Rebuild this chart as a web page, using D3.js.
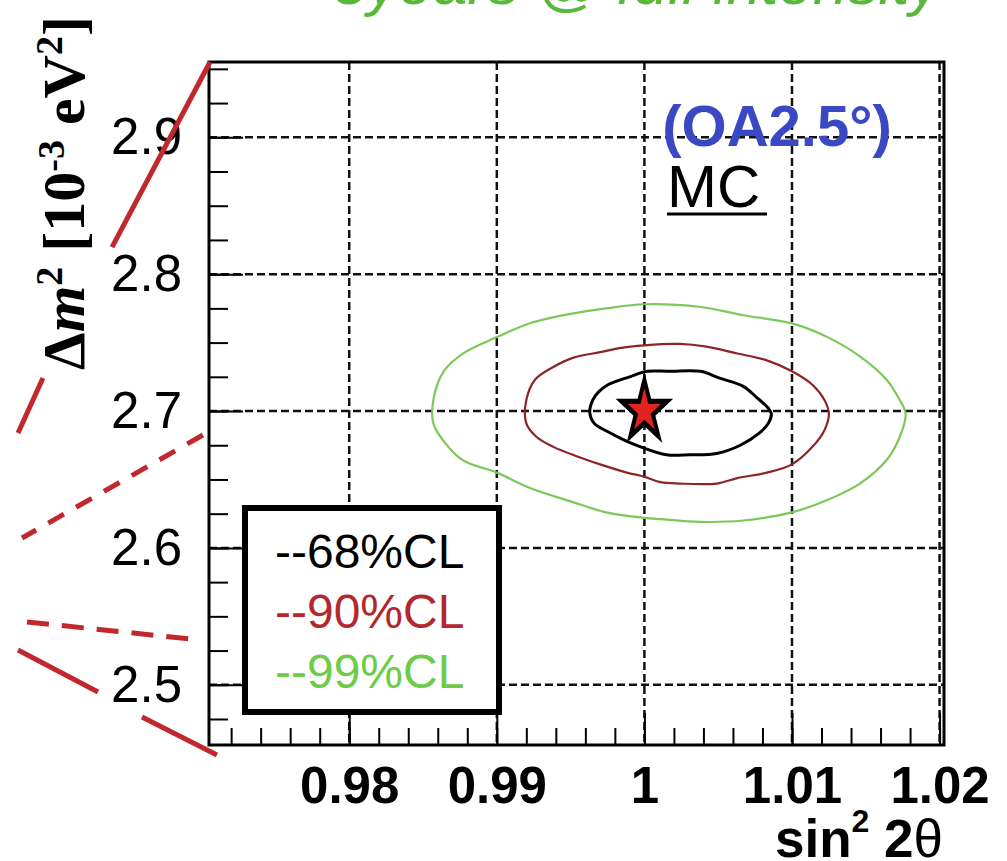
<!DOCTYPE html>
<html>
<head>
<meta charset="utf-8">
<script src="https://cdn.jsdelivr.net/npm/d3@7"></script>
<style>
  body { margin: 0; background: #fff; }
  svg { display: block; }
  .tick line { stroke: #000; stroke-width: 2; }
  .domain { display: none; }
</style>
</head>
<body>
<svg id="chart" width="1007" height="861"></svg>
<script>
// tick values and labels
var xTicks = [0.98, 0.99, 1.0, 1.01, 1.02];
var xTickLabels = ["0.98", "0.99", "1", "1.01", "1.02"];
var yTicks = [2.5, 2.6, 2.7, 2.8, 2.9];
var yTickLabels = ["2.5", "2.6", "2.7", "2.8", "2.9"];

// confidence level contours, [sin^2 2theta, dm^2]
var contour68 = [[0.9963,2.699],[0.9965,2.708],[0.9969,2.714],[0.9975,2.719],[0.9990,2.725],[1.0002,2.729],[1.0017,2.729],[1.0038,2.729],[1.0051,2.724],[1.0067,2.718],[1.0076,2.710],[1.0084,2.702],[1.0086,2.698],[1.0084,2.691],[1.0078,2.684],[1.0065,2.675],[1.0049,2.669],[1.0031,2.668],[1.0015,2.668],[0.9997,2.674],[0.9986,2.679],[0.9975,2.685],[0.9966,2.691]];
var contour90 = [[0.9920,2.708],[0.9926,2.723],[0.9938,2.732],[0.9952,2.739],[0.9970,2.743],[0.9983,2.746],[1.0000,2.748],[1.0024,2.749],[1.0042,2.747],[1.0063,2.742],[1.0083,2.737],[1.0100,2.729],[1.0114,2.719],[1.0122,2.708],[1.0125,2.698],[1.0122,2.686],[1.0114,2.674],[1.0100,2.661],[1.0083,2.655],[1.0063,2.651],[1.0049,2.647],[1.0024,2.647],[1.0011,2.648],[1.0000,2.652],[0.9988,2.655],[0.9970,2.661],[0.9954,2.667],[0.9938,2.674],[0.9927,2.681],[0.9920,2.691]];
var contour99 = [[0.9857,2.708],[0.9864,2.729],[0.9877,2.742],[0.9900,2.754],[0.9922,2.764],[0.9950,2.771],[0.9974,2.775],[1.0000,2.778],[1.0038,2.776],[1.0067,2.770],[1.0100,2.764],[1.0124,2.754],[1.0146,2.740],[1.0164,2.723],[1.0173,2.708],[1.0177,2.698],[1.0173,2.681],[1.0164,2.664],[1.0146,2.647],[1.0124,2.635],[1.0100,2.626],[1.0067,2.620],[1.0038,2.619],[1.0011,2.621],[1.0000,2.622],[0.9974,2.626],[0.9950,2.634],[0.9922,2.644],[0.9900,2.655],[0.9877,2.664],[0.9864,2.678],[0.9857,2.691]];
var bestFit = [1.0, 2.7];
var clLabels = ["--68%CL", "--90%CL", "--99%CL"];

// bits of a neighbouring figure that stick into the frame, in the same coords
var sideStrokes = [
  {p: [[0.97057,2.955],[0.96393,2.8198]], dash: null},
  {p: [[0.95925,2.7241],[0.95756,2.6839]], dash: null},
  {p: [[0.97009,2.6825],[0.95783,2.6072]], dash: "18,14"},
  {p: [[0.95817,2.5459],[0.96989,2.5327]], dash: "22,13"},
  {p: [[0.95756,2.5254],[0.96298,2.4947]], dash: null},
  {p: [[0.96596,2.4765],[0.97104,2.4487]], dash: null}
];

var svg = d3.select("#chart");
var plotL = 209, plotR = 944, plotT = 62, plotB = 745;

var x = d3.scaleLinear().domain([0.9705, 1.0203]).range([plotL, plotR]);
var y = d3.scaleLinear().domain([2.456, 2.955]).range([plotB, plotT]);

var colors = ["#000000", "#8e2426", "#7cc85a"];
var textColors = ["#000000", "#b3282d", "#6ccc48"];

// title, mostly cut away at the top
svg.append("text")
    .attr("x", 333).attr("y", 4)
    .style("font-family", "Liberation Sans, Arial, sans-serif")
    .style("font-style", "italic")
    .style("font-size", "62px")
    .style("fill", "#58b83a")
    .text("5years @ full intensity");

// grid
var grid = svg.append("g").attr("class", "grid");
grid.selectAll("line.gx").data(xTicks).enter().append("line")
    .attr("x1", function(d) { return x(d); }).attr("x2", function(d) { return x(d); })
    .attr("y1", plotT).attr("y2", plotB)
    .attr("stroke", "#111").attr("stroke-width", 2.5).attr("stroke-dasharray", "8,4");
grid.selectAll("line.gy").data(yTicks).enter().append("line")
    .attr("y1", function(d) { return y(d); }).attr("y2", function(d) { return y(d); })
    .attr("x1", plotL).attr("x2", plotR)
    .attr("stroke", "#111").attr("stroke-width", 2.5).attr("stroke-dasharray", "8,4");

// contours
var line = d3.line()
    .x(function(d) { return x(d[0]); })
    .y(function(d) { return y(d[1]); })
    .curve(d3.curveCatmullRomClosed);

[contour99, contour90, contour68].forEach(function(c, i) {
  svg.append("path")
      .datum(c)
      .attr("d", line)
      .attr("fill", "none")
      .attr("stroke", colors[2 - i])
      .attr("stroke-width", i == 2 ? 3 : 2.2);
});

// best fit star
svg.append("path")
    .attr("d", d3.symbol().type(d3.symbolStar).size(640)())
    .attr("transform", "translate(" + x(bestFit[0]) + "," + y(bestFit[1]) + ") scale(1,1.3)")
    .attr("fill", "#e2231f")
    .attr("stroke", "#000")
    .attr("stroke-width", 4)
    .attr("stroke-linejoin", "miter");

// labels inside the frame
svg.append("text")
    .attr("x", 777).attr("y", 146)
    .attr("text-anchor", "middle")
    .style("font-family", "Liberation Sans, Arial, sans-serif")
    .style("font-weight", "bold")
    .style("font-size", "58px")
    .style("fill", "#3a48c4")
    .text("(OA2.5°)");

svg.append("text")
    .attr("x", 667).attr("y", 207)
    .style("font-family", "Liberation Sans, Arial, sans-serif")
    .style("font-size", "60px")
    .style("fill", "#000")
    .text("MC");
svg.append("line")
    .attr("x1", 667).attr("x2", 767).attr("y1", 214).attr("y2", 214)
    .attr("stroke", "#000").attr("stroke-width", 3);

// ticks (inside)
var minorX = x.ticks(25);
var minorY = d3.range(2.475, 2.96, 0.025);

svg.append("g")
    .attr("transform", "translate(0," + plotB + ")")
    .call(d3.axisBottom(x).tickValues(minorX).tickSize(-17).tickFormat(""));
var gx = svg.append("g")
    .attr("transform", "translate(0," + plotB + ")")
    .call(d3.axisBottom(x).tickValues(xTicks).tickSize(-32).tickPadding(22)
      .tickFormat(function(d, i) { return xTickLabels[i]; }));
gx.selectAll("text")
    .style("font-family", "Liberation Sans, Arial, sans-serif")
    .style("font-weight", "bold")
    .style("font-size", "51px")
    .style("fill", "#000");

svg.append("g")
    .attr("transform", "translate(" + plotL + ",0)")
    .call(d3.axisLeft(y).tickValues(minorY).tickSize(-19).tickFormat(""));
var gy = svg.append("g")
    .attr("transform", "translate(" + plotL + ",0)")
    .call(d3.axisLeft(y).tickValues(yTicks).tickSize(-34).tickPadding(27)
      .tickFormat(function(d, i) { return yTickLabels[i]; }));
gy.selectAll("text")
    .style("font-family", "Liberation Sans, Arial, sans-serif")
    .style("font-size", "51px")
    .style("fill", "#000");

// legend
var legend = svg.append("g");
legend.append("rect")
    .attr("x", 245).attr("y", 508).attr("width", 254).attr("height", 204)
    .attr("fill", "#fff").attr("stroke", "#000").attr("stroke-width", 6);
legend.selectAll("text").data(clLabels).enter().append("text")
    .attr("x", 275)
    .attr("y", function(d, i) { return 568 + i * 60; })
    .style("font-family", "Liberation Sans, Arial, sans-serif")
    .style("font-size", "48px")
    .style("fill", function(d, i) { return textColors[i]; })
    .text(function(d) { return d; });

// frame
svg.append("rect")
    .attr("x", plotL).attr("y", plotT)
    .attr("width", plotR - plotL).attr("height", plotB - plotT)
    .attr("fill", "none").attr("stroke", "#000").attr("stroke-width", 3);

// red strokes on the left
svg.selectAll("line.side").data(sideStrokes).enter().append("line")
    .attr("x1", function(d) { return x(d.p[0][0]); })
    .attr("y1", function(d) { return y(d.p[0][1]); })
    .attr("x2", function(d) { return x(d.p[1][0]); })
    .attr("y2", function(d) { return y(d.p[1][1]); })
    .attr("stroke", "#c0282e")
    .attr("stroke-width", 5)
    .attr("stroke-dasharray", function(d) { return d.dash; });

// axis titles
var xt = svg.append("text")
    .attr("x", 943).attr("y", 857)
    .attr("text-anchor", "end")
    .style("font-family", "Liberation Sans, Arial, sans-serif")
    .style("font-weight", "bold")
    .style("font-size", "53px")
    .style("fill", "#000");
xt.append("tspan").text("sin");
xt.append("tspan").attr("dy", -25).style("font-size", "32px").text("2");
xt.append("tspan").attr("dy", 25).text(" 2");
xt.append("tspan").style("font-weight", "normal").text("θ");

var yt = svg.append("text")
    .attr("transform", "translate(84,193) rotate(-90)")
    .attr("text-anchor", "middle")
    .style("font-family", "Liberation Serif, Times New Roman, serif")
    .style("font-weight", "bold")
    .style("font-size", "60px")
    .style("fill", "#000");
yt.append("tspan").text("Δ");
yt.append("tspan").style("font-style", "italic").text("m");
yt.append("tspan").attr("dy", -22).style("font-size", "38px").text("2");
yt.append("tspan").attr("dy", 22).text(" [10");
yt.append("tspan").attr("dy", -20).style("font-size", "38px").text("-3");
yt.append("tspan").attr("dy", 20).text(" eV");
yt.append("tspan").attr("dy", -22).style("font-size", "38px").text("2");
yt.append("tspan").attr("dy", 22).text("]");
</script>
</body>
</html>
